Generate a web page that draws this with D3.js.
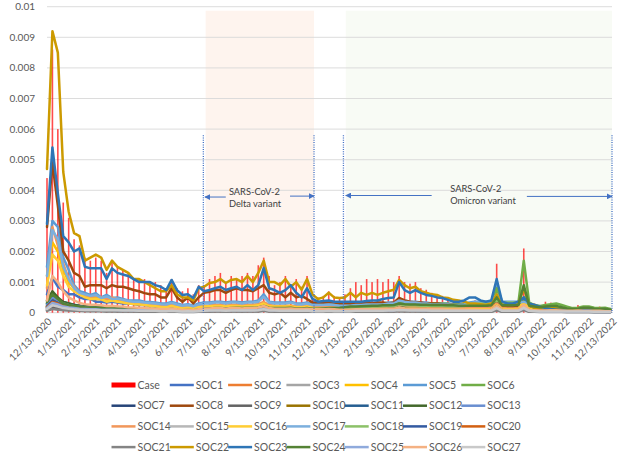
<!DOCTYPE html>
<html><head><meta charset="utf-8">
<script src="https://cdn.jsdelivr.net/npm/d3@7"></script>
<style>html,body{margin:0;padding:0;background:#fff}svg{display:block}</style>
</head><body>
<svg id="chart" width="624" height="456"></svg>
<script>
// All rates are stored in units of 1e-4 (i.e. 10 = 0.001)
const startDate = "2020-12-13";   // first weekly point
const nWeeks = 105;
const xTickLabels = ["12/13/2020","1/13/2021","2/13/2021","3/13/2021","4/13/2021","5/13/2021","6/13/2021","7/13/2021","8/13/2021","9/13/2021","10/13/2021","11/13/2021","12/13/2021","1/13/2022","2/13/2022","3/13/2022","4/13/2022","5/13/2022","6/13/2022","7/13/2022","8/13/2022","9/13/2022","10/13/2022","11/13/2022","12/13/2022"];
const yTickValues = [0,10,20,30,40,50,60,70,80,90,100];
const yTickLabels = ["0","0.001","0.002","0.003","0.004","0.005","0.006","0.007","0.008","0.009","0.01"];

const caseValues = [44,86,60,36,31,24,22,18,17,18,17,13,17,15,14,
13,11,11,11,10,10,9,8,11,8,7,8,6,9,9,
11,12,13,10,12,11,12,13,12,15.5,18,12,9,10,12,
9,11,8.5,12,5,5,5.5,7,5.5,5,6,8,10,9,11,
10,11,10,11,10,12,10,9.5,10,8,7.5,6.5,6,5.5,5,
4.5,4,4,3.5,4,3.5,3,4,16,3.5,3,3.5,4,21,4,
3,2.5,3.6,3.3,3,2,1.5,1.5,2.5,2,2,1.5,2,1.5,1];

const soc1 = [6,11.5,8.5,7.4,6,6,5,4.5,4.5,3.6,3.6,3.3,3.6,3.3,3,
3,2.8,2.5,2.5,2.3,2,2,1.8,2.2,1.8,1.5,1.5,1.3,1.8,2,
2,2.2,2.2,2,2.2,2.2,2,2.2,2.2,2.4,3,2,2,1.8,1.8,
1.9,1.7,1.6,1.8,1.5,1.5,1.5,1.6,1.5,1.5,1.5,1.6,1.6,1.7,1.8,
1.8,1.9,1.9,2,2,2.8,2.4,2.2,2.2,2,2,1.9,1.8,1.8,1.7,
1.6,1.5,1.5,1.5,1.5,1.4,1.4,1.5,4,1.4,1.3,1.3,1.4,2,1.2,
1,0.9,0.9,0.9,0.9,0.8,0.8,0.8,0.8,0.8,0.8,0.7,0.7,0.7,0.6];
const soc2 = [2,4,3.5,2.6,2,1.8,1.6,1.5,1.4,1.4,1.3,1.2,1.3,1.2,1.1,
1.1,1,1,0.9,0.9,0.8,0.8,0.7,0.9,0.7,0.6,0.7,0.6,0.8,0.9,
1,1.1,1.1,1,1.1,1.1,1,1.1,1.1,1.2,1.6,1.1,1,1,1,
1,0.9,0.9,1,0.8,0.8,0.8,0.9,0.8,0.8,0.8,0.8,0.9,0.9,0.9,
0.9,0.9,1,1,1,1.4,1.2,1.1,1.1,1,1,1,1,0.9,0.9,
0.9,0.9,0.9,0.9,0.9,0.9,0.9,1,2,0.9,0.9,0.9,0.9,2.5,0.9,
0.8,0.7,0.8,0.8,0.8,0.7,0.6,0.6,0.7,0.6,0.6,0.6,0.6,0.5,0.5];
const soc3 = [1,2,1.8,1.4,1.2,1,0.9,0.9,0.8,0.8,0.8,0.7,0.8,0.7,0.7,
0.7,0.6,0.6,0.6,0.5,0.5,0.5,0.5,0.6,0.5,0.4,0.4,0.4,0.5,0.5,
0.6,0.6,0.6,0.5,0.6,0.6,0.6,0.6,0.6,0.7,0.9,0.6,0.6,0.5,0.5,
0.6,0.5,0.5,0.6,0.4,0.4,0.4,0.5,0.4,0.4,0.4,0.4,0.5,0.5,0.5,
0.5,0.5,0.5,0.6,0.6,0.8,0.7,0.6,0.6,0.6,0.6,0.5,0.5,0.5,0.5,
0.5,0.5,0.5,0.5,0.5,0.5,0.5,0.5,1.2,0.5,0.5,0.5,0.5,1.5,0.5,
0.4,0.4,0.4,0.4,0.4,0.4,0.3,0.3,0.4,0.3,0.3,0.3,0.3,0.3,0.3];
const soc4 = [12,23,20,14,10,8,7,5.5,5,5,5,4,4.5,4,3.6,
3.3,3,3,2.8,2.5,2.3,2,2,2.5,2,1.5,1.8,1.5,2,2.2,
2.3,2.5,2.5,2.2,2.5,2.5,2.3,2.5,2.5,2.8,3.3,2.4,2.2,2.2,2.3,
2.2,2,2,2.2,1.8,1.5,1.5,1.6,1.5,1.3,1.2,1.2,1.1,1.1,1.1,
1.1,1.1,1.2,1.2,1.2,1.8,1.5,1.4,1.4,1.3,1.3,1.2,1.2,1.2,1.2,
1.1,1.1,1.1,1.2,1.2,1.2,1.2,1.3,3,1.2,1.2,1.2,1.3,4.5,1.5,
1.2,1.1,1.5,1.5,1.3,1.1,1,1,1.2,1,1,0.9,1,0.8,0.8];
const soc5 = [15,30,28,18,14,9,7,6.5,5.8,6.4,5,5.8,4.8,5,4.5,
4,4,4,3.6,3.5,3.3,3,3,3.5,3,2.5,2.8,2.3,3,3.3,
3.3,3.6,3.6,3.3,3.6,3.6,3.3,3.6,3.6,4,6,3.6,3.3,3.3,3.3,
3.6,3,3,3.3,2.8,2.8,2.8,3,2.8,2.5,2.5,2.5,2.8,2.8,3,
3,3,3,3.3,3.3,4.5,4,3.6,3.6,3.3,3.3,3,3,3,3,
2.8,2.8,3,3.3,3.6,3.6,3.6,3.6,9,3.6,3.6,3.6,3.6,4,3.3,
1.5,1.2,1,1,1,0.8,0.8,0.8,0.8,0.8,0.8,0.7,0.7,0.7,0.6];
const soc6 = [3,5,4,3,2.5,2.3,2,2,1.8,1.8,1.7,1.6,1.7,1.6,1.5,
1.5,1.4,1.4,1.3,1.3,1.2,1.2,1.1,1.4,1.1,1,1.1,1,1.3,1.5,
1.6,1.7,1.7,1.6,1.7,1.8,1.7,1.8,1.8,2,2.8,1.8,1.7,1.7,1.7,
1.8,1.6,1.6,1.8,1.5,1.6,1.6,1.7,1.7,1.8,2,2.2,2.3,2.5,2.6,
2.7,2.7,2.8,2.9,3,3.5,3.3,3.2,3.2,3.1,3,3,3,2.9,2.9,
2.8,2.8,2.8,2.8,2.8,2.8,2.8,3,8,3,3,3,3.2,17,3.3,
2.5,2.2,2.5,2.8,3,2.5,2,1.5,1.6,2,2,1.6,1.5,1.6,1.2];
const soc7 = [1.5,2.5,2,1.5,1.3,1.2,1.1,1,1,0.9,0.9,0.8,0.9,0.8,0.8,
0.7,0.7,0.7,0.6,0.6,0.6,0.5,0.5,0.7,0.5,0.4,0.5,0.4,0.5,0.6,
0.6,0.7,0.7,0.6,0.7,0.7,0.6,0.7,0.7,0.8,1,0.7,0.6,0.6,0.6,
0.6,0.5,0.5,0.6,0.4,0.4,0.4,0.5,0.4,0.4,0.4,0.5,0.5,0.5,0.5,
0.5,0.5,0.6,0.6,0.6,0.9,0.7,0.7,0.7,0.6,0.6,0.6,0.6,0.5,0.5,
0.5,0.5,0.5,0.5,0.5,0.5,0.5,0.5,1.5,0.5,0.4,0.4,0.5,1.5,0.4,
0.4,0.3,0.3,0.3,0.3,0.3,0.3,0.3,0.3,0.3,0.3,0.2,0.2,0.2,0.2];
const soc8 = [28,49,35,20,17,13,12,8.5,9,9,9,8,9,8.5,8.5,
8,7.4,7,6.4,6,6,5,5,8,5,3.6,5,3,5,6.5,
6.8,7.4,7.4,6.5,7.4,8,7.4,7.4,7,8,9,6.5,6,6.5,5,
6.5,5,5.5,4.5,3.3,3.3,3.3,3.5,3.3,3,3,3,3.3,3,3.3,
3,3.3,3.3,3,3.3,4.8,4,3.6,3.3,3.3,3,3,3,2.8,2.8,
2.5,2.5,2.5,2.5,2.5,2.2,2.2,2.5,4,2.2,2,2,2.2,3,1.5,
1.2,1,1,1,0.8,0.8,0.8,0.8,0.8,0.7,0.7,0.7,0.7,0.6,0.6];
const soc9 = [0.8,1.5,1.3,1,0.9,0.8,0.7,0.7,0.6,0.6,0.6,0.5,0.6,0.5,0.5,
0.5,0.5,0.4,0.4,0.4,0.4,0.4,0.3,0.4,0.3,0.3,0.3,0.3,0.4,0.4,
0.4,0.5,0.5,0.4,0.5,0.5,0.4,0.5,0.5,0.5,0.7,0.5,0.4,0.4,0.4,
0.4,0.4,0.4,0.4,0.3,0.3,0.3,0.4,0.3,0.3,0.3,0.3,0.4,0.4,0.4,
0.4,0.4,0.4,0.4,0.4,0.6,0.5,0.5,0.5,0.4,0.4,0.4,0.4,0.4,0.4,
0.4,0.4,0.4,0.4,0.4,0.4,0.4,0.4,0.9,0.4,0.4,0.4,0.4,1,0.4,
0.3,0.3,0.3,0.3,0.3,0.3,0.2,0.2,0.3,0.2,0.2,0.2,0.2,0.2,0.2];
const soc10 = [2.5,4.5,4,3,2.4,2,1.8,1.6,1.5,1.5,1.4,1.3,1.4,1.3,1.2,
1.2,1.1,1.1,1,1,0.9,0.9,0.8,1,0.8,0.7,0.8,0.6,0.9,1,
1.1,1.2,1.2,1.1,1.2,1.2,1.1,1.2,1.2,1.3,1.8,1.2,1.1,1.1,1.1,
1.1,1,1,1.1,0.9,0.8,0.8,0.9,0.8,0.8,0.8,0.9,0.9,0.9,0.9,
0.9,0.9,1,1,1,1.5,1.3,1.2,1.2,1.1,1.1,1,1,1,1,
0.9,0.9,0.9,0.9,0.9,0.9,0.9,1,2.2,0.9,0.9,0.9,0.9,2.8,0.9,
0.8,0.7,0.8,0.8,0.8,0.7,0.6,0.6,0.7,0.6,0.6,0.6,0.6,0.5,0.5];
const soc11 = [3,6,4.5,3.5,3,2.6,2.3,2,1.9,1.8,1.7,1.6,1.6,1.5,1.4,
1.3,1.3,1.2,1.2,1.1,1,1,0.9,1.1,0.9,0.8,0.9,0.7,1,1.1,
1.2,1.3,1.3,1.2,1.3,1.3,1.2,1.3,1.3,1.4,2,1.3,1.2,1.2,1.2,
1.2,1.1,1.1,1.2,1,1,1,1.1,1,1,1,1.1,1.1,1.1,1.1,
1.1,1.1,1.2,1.2,1.2,1.8,1.5,1.4,1.4,1.3,1.3,1.2,1.2,1.2,1.2,
1.1,1.1,1.1,1.1,1.1,1.1,1.1,1.2,3,1.1,1,1,1.1,2,1,
0.9,0.8,0.8,0.8,0.8,0.7,0.7,0.7,0.7,0.7,0.7,0.6,0.6,0.6,0.5];
const soc12 = [4,7,5,3.5,3,2.5,2.2,2,1.8,1.8,1.7,1.5,1.6,1.5,1.4,
1.3,1.3,1.2,1.2,1.1,1.1,1,1,1.2,1,0.9,1,0.8,1.1,1.2,
1.2,1.3,1.3,1.2,1.3,1.3,1.2,1.3,1.3,1.4,1.8,1.3,1.2,1.2,1.2,
1.3,1.2,1.1,1.2,1,1,1,1.1,1,1,1,1.1,1.1,1.2,1.2,
1.2,1.2,1.3,1.3,1.3,1.8,1.6,1.5,1.5,1.4,1.4,1.3,1.3,1.3,1.3,
1.2,1.2,1.2,1.2,1.2,1.2,1.2,1.3,3,1.2,1.2,1.2,1.3,5,1.2,
1,0.9,1,1,1,0.9,0.8,0.8,0.8,0.8,0.8,0.7,0.7,0.7,0.6];
const soc13 = [2.5,5,4,3,2.5,2.2,2,1.8,1.7,1.6,1.5,1.4,1.5,1.4,1.3,
1.2,1.2,1.1,1.1,1,1,0.9,0.9,1.1,0.8,0.7,0.8,0.7,0.9,1,
1,1.1,1.1,1,1.1,1.1,1,1.1,1.1,1.2,1.6,1.1,1,1,1,
1,0.9,0.9,1,0.8,0.8,0.8,0.9,0.8,0.8,0.8,0.9,0.9,0.9,0.9,
0.9,0.9,1,1,1,1.4,1.2,1.1,1.1,1,1,1,1,0.9,0.9,
0.9,0.9,0.9,0.9,0.9,0.9,0.9,1,2.5,0.9,0.9,0.9,0.9,1.8,0.9,
0.8,0.7,0.7,0.7,0.7,0.6,0.6,0.6,0.6,0.6,0.6,0.5,0.5,0.5,0.5];
const soc14 = [8,28,22,16,11,8.5,6,5.5,5,5.5,5,4.5,5,4.5,4,
3.6,3.3,3,3,2.8,2.5,2.3,2,2.5,2,1.8,2,1.5,2,2.2,
2.3,2.5,2.5,2.2,2.5,2.5,2.3,2.5,2.5,2.8,3.5,2.5,2.2,2.2,2.2,
2.3,2,2,2.2,1.8,1.8,1.8,2,1.8,1.6,1.6,1.6,1.7,1.7,1.8,
1.8,1.8,1.8,2,2,2.8,2.4,2.2,2.2,2,2,1.8,1.8,1.8,1.7,
1.6,1.6,1.6,1.6,1.6,1.5,1.5,1.6,3,1.5,1.4,1.4,1.5,3.5,1.3,
1.2,1,1,1.2,1.3,1,0.9,0.9,1,0.9,0.8,0.8,0.8,0.7,0.7];
const soc15 = [1.5,2.8,2.4,1.8,1.5,1.3,1.2,1.1,1,1,1,0.9,1,0.9,0.9,
0.8,0.8,0.8,0.7,0.7,0.7,0.6,0.6,0.8,0.6,0.5,0.6,0.5,0.6,0.7,
0.8,0.8,0.8,0.7,0.8,0.8,0.8,0.8,0.8,0.9,1.3,0.8,0.8,0.7,0.7,
0.8,0.7,0.7,0.8,0.6,0.6,0.6,0.7,0.6,0.6,0.6,0.6,0.7,0.7,0.7,
0.7,0.7,0.7,0.8,0.8,1.1,0.9,0.9,0.9,0.8,0.8,0.7,0.7,0.7,0.7,
0.7,0.7,0.7,0.7,0.7,0.7,0.7,0.7,1.8,0.7,0.7,0.7,0.7,2,0.7,
0.6,0.5,0.5,0.5,0.5,0.5,0.4,0.4,0.5,0.4,0.4,0.4,0.4,0.4,0.4];
const soc16 = [9,19,17,12,8.5,7,6,5,4.5,4.5,4.4,3.6,4,3.6,3.3,
3,2.8,2.7,2.5,2.3,2.1,1.9,1.8,2.2,1.8,1.4,1.6,1.3,1.8,2,
2.1,2.2,2.2,2,2.2,2.2,2,2.2,2.2,2.4,3,2.1,2,2,2,
2,1.8,1.8,2,1.6,1.4,1.4,1.5,1.4,1.2,1.1,1.1,1,1,1,
1,1,1.1,1.1,1.1,1.6,1.4,1.3,1.3,1.2,1.2,1.1,1.1,1.1,1.1,
1,1,1,1.1,1.1,1.1,1.1,1.2,2.5,1.1,1.1,1.1,1.2,3.5,1.3,
1.1,1,1.3,1.3,1.2,1,0.9,0.9,1.1,0.9,0.9,0.8,0.9,0.7,0.7];
const soc17 = [12,27,24,15,11,8,6.5,6,5.5,5.8,4.8,5.3,4.5,4.6,4.2,
3.8,3.6,3.6,3.3,3.2,3,2.8,2.7,3.2,2.7,2.3,2.5,2.1,2.7,3,
3,3.3,3.3,3,3.3,3.3,3,3.3,3.3,3.6,5.2,3.3,3,3,3,
3.3,2.8,2.7,3,2.5,2.5,2.5,2.7,2.5,2.3,2.3,2.3,2.5,2.5,2.7,
2.7,2.7,2.7,3,3,4,3.6,3.3,3.3,3,3,2.7,2.7,2.7,2.7,
2.5,2.5,2.7,3,3.3,3.3,3.3,3.3,6,3.3,3.3,3.3,3.3,3.6,3,
1.3,1.1,0.9,0.9,0.9,0.7,0.7,0.7,0.7,0.7,0.7,0.6,0.6,0.6,0.5];
const soc18 = [2,3.5,3,2.2,1.8,1.6,1.5,1.4,1.3,1.3,1.2,1.2,1.2,1.1,1.1,
1,1,1,0.9,0.9,0.9,0.8,0.8,1,0.8,0.7,0.8,0.7,0.9,1,
1.1,1.2,1.2,1.1,1.2,1.2,1.1,1.2,1.2,1.3,1.8,1.2,1.1,1.1,1.1,
1.2,1.1,1,1.1,0.9,0.9,1,1.1,1.1,1.2,1.4,1.6,1.7,1.8,1.9,
2,2,2.1,2.2,2.2,2.8,2.5,2.4,2.4,2.3,2.3,2.2,2.2,2.2,2.1,
2.1,2.1,2.2,2.5,2.8,3,3,3,4,3.2,3.3,3.3,3.3,5,3,
1.5,1.3,1.5,1.6,1.5,1.2,1,1,1.1,1.1,1.1,0.9,0.9,0.9,0.8];
const soc19 = [2,4,3.2,2.5,2.1,1.8,1.6,1.5,1.4,1.3,1.3,1.2,1.2,1.1,1.1,
1,1,0.9,0.9,0.9,0.8,0.8,0.7,0.9,0.7,0.6,0.7,0.6,0.8,0.9,
0.9,1,1,0.9,1,1,0.9,1,1,1.1,1.5,1,0.9,0.9,0.9,
0.9,0.8,0.8,0.9,0.7,0.7,0.7,0.8,0.7,0.7,0.7,0.8,0.8,0.8,0.8,
0.8,0.8,0.9,0.9,0.9,1.3,1.1,1,1,0.9,0.9,0.9,0.9,0.8,0.8,
0.8,0.8,0.8,0.8,0.8,0.8,0.8,0.9,2.2,0.8,0.8,0.8,0.8,1.5,0.8,
0.7,0.6,0.6,0.6,0.6,0.5,0.5,0.5,0.5,0.5,0.5,0.4,0.4,0.4,0.4];
const soc20 = [1.8,3.5,3,2.2,1.8,1.6,1.4,1.3,1.2,1.2,1.1,1,1.1,1,1,
0.9,0.9,0.8,0.8,0.8,0.7,0.7,0.6,0.8,0.6,0.5,0.6,0.5,0.7,0.8,
0.9,1,1,0.9,1,1,0.9,1,1,1.1,1.4,1,0.9,0.9,0.9,
0.9,0.8,0.8,0.9,0.7,0.7,0.7,0.8,0.7,0.7,0.7,0.7,0.8,0.8,0.8,
0.8,0.8,0.8,0.9,0.9,1.2,1,1,1,0.9,0.9,0.8,0.8,0.8,0.8,
0.8,0.8,0.8,0.8,0.8,0.8,0.8,0.9,1.8,0.8,0.8,0.8,0.8,2.2,0.8,
0.7,0.6,0.7,0.7,0.7,0.6,0.5,0.5,0.6,0.5,0.5,0.5,0.5,0.4,0.4];
const soc21 = [0.6,1.2,1,0.8,0.7,0.6,0.6,0.5,0.5,0.5,0.5,0.4,0.5,0.4,0.4,
0.4,0.4,0.4,0.3,0.3,0.3,0.3,0.3,0.4,0.3,0.2,0.3,0.2,0.3,0.3,
0.4,0.4,0.4,0.3,0.4,0.4,0.4,0.4,0.4,0.4,0.6,0.4,0.4,0.3,0.3,
0.4,0.3,0.3,0.4,0.3,0.3,0.3,0.3,0.3,0.3,0.3,0.3,0.3,0.3,0.3,
0.3,0.3,0.3,0.4,0.4,0.5,0.4,0.4,0.4,0.4,0.4,0.3,0.3,0.3,0.3,
0.3,0.3,0.3,0.3,0.3,0.3,0.3,0.3,0.8,0.3,0.3,0.3,0.3,0.9,0.3,
0.3,0.2,0.2,0.2,0.2,0.2,0.2,0.2,0.2,0.2,0.2,0.2,0.2,0.2,0.2];
const soc22 = [47,92,85,46,33,26,25,17,18,19,18,14,17,15,14,
13,11,11,10,9,8,7,7,9,6,5,5,4,8,8.5,
9.7,10,11,9.7,10.7,11,10,12,10,13,17,10,10,9,11,
8.5,10,7.5,11,6,4.5,5,6.5,5,4.8,5,6.5,5,6.5,5.8,
6.5,5.8,6.5,7,7.5,10.7,9,8,8.5,7,6.5,6,5.8,5,4.8,
4.2,4,3.6,3,3,2.8,2.5,3,6,2.5,2.5,2.5,3,8,2.5,
1.5,1.5,2,2,1.5,1.2,1,1,1.2,1,1,1,1.2,1,0.8];
const soc23 = [29,54,39,25,23,20,21,15,14.5,14.5,14.5,11,14.5,13,12.5,
12,11,10,10,10,9,8.5,7.4,10.7,7.4,5.8,6,4.8,8.5,7,
7.4,8,8.5,7.4,8,8.5,7.4,9,7.4,9,14.6,8,7.4,6.5,7.4,
9,6.5,5,8,4.5,3.6,3.8,4,3.6,3.6,3.6,3.6,3.6,3.6,3.8,
4,4,4.5,4.8,5,10,7.4,6.5,7.4,6.5,5.8,5.5,5,4.8,4.2,
3.6,3.6,4,5,5,4,3.6,4,11,3.6,3,3,3.6,5,3,
2.5,2,1.5,1.2,1,1,1,0.8,0.8,1,0.8,0.8,0.8,0.6,0.6];
const soc24 = [3.5,6,4.5,3,2.5,2.2,2,1.8,1.7,1.7,1.6,1.5,1.5,1.4,1.3,
1.3,1.2,1.2,1.1,1.1,1,1,0.9,1.1,0.9,0.8,0.9,0.8,1,1.2,
1.4,1.5,1.5,1.4,1.5,1.6,1.5,1.6,1.6,1.7,2.2,1.6,1.5,1.5,1.5,
1.6,1.4,1.4,1.5,1.3,1.3,1.4,1.5,1.5,1.6,1.8,2,2,2.1,2.2,
2.3,2.3,2.4,2.4,2.5,3,2.8,2.7,2.7,2.6,2.6,2.5,2.5,2.5,2.4,
2.4,2.3,2.3,2.3,2.3,2.3,2.3,2.4,5,2.4,2.4,2.4,2.5,9,2.3,
2,1.8,2,2.2,2.2,1.8,1.4,1.2,1.3,1.6,1.6,1.3,1.2,1.3,1];
const soc25 = [1.6,3.2,2.7,2,1.7,1.5,1.3,1.2,1.1,1.1,1,1,1,0.9,0.9,
0.9,0.8,0.8,0.8,0.7,0.7,0.7,0.6,0.8,0.6,0.5,0.6,0.5,0.7,0.7,
0.8,0.9,0.9,0.8,0.9,0.9,0.8,0.9,0.9,1,1.4,0.9,0.8,0.8,0.8,
0.8,0.7,0.7,0.8,0.6,0.6,0.6,0.7,0.6,0.6,0.6,0.7,0.7,0.7,0.7,
0.7,0.7,0.8,0.8,0.8,1.1,1,0.9,0.9,0.8,0.8,0.8,0.8,0.7,0.7,
0.7,0.7,0.7,0.7,0.7,0.7,0.7,0.8,1.9,0.7,0.7,0.7,0.7,1.4,0.7,
0.6,0.5,0.5,0.5,0.5,0.5,0.5,0.5,0.5,0.5,0.5,0.4,0.4,0.4,0.4];
const soc26 = [4,12,10,7,5,4,3.2,2.8,2.6,2.6,2.4,2.2,2.3,2.1,2,
1.8,1.7,1.6,1.5,1.4,1.3,1.2,1.1,1.4,1.1,0.9,1,0.8,1.1,1.3,
1.4,1.5,1.5,1.3,1.5,1.5,1.4,1.5,1.5,1.7,2.2,1.5,1.3,1.3,1.3,
1.4,1.2,1.2,1.3,1.1,1.1,1.1,1.2,1.1,1,1,1,1.1,1.1,1.1,
1.1,1.1,1.1,1.2,1.2,1.7,1.4,1.3,1.3,1.2,1.2,1.1,1.1,1.1,1,
1,1,1,1,1,0.9,0.9,1,2.2,0.9,0.9,0.9,0.9,2.5,0.9,
0.8,0.7,0.7,0.8,0.8,0.7,0.6,0.6,0.7,0.6,0.6,0.6,0.6,0.5,0.5];
const soc27 = [1.2,2.4,2,1.5,1.3,1.1,1,0.9,0.9,0.9,0.8,0.8,0.8,0.8,0.7,
0.7,0.7,0.6,0.6,0.6,0.6,0.5,0.5,0.6,0.5,0.4,0.5,0.4,0.5,0.6,
0.7,0.7,0.7,0.6,0.7,0.7,0.7,0.7,0.7,0.8,1.1,0.7,0.7,0.6,0.6,
0.7,0.6,0.6,0.7,0.5,0.5,0.5,0.6,0.5,0.5,0.5,0.5,0.6,0.6,0.6,
0.6,0.6,0.6,0.7,0.7,0.9,0.8,0.7,0.7,0.7,0.7,0.6,0.6,0.6,0.6,
0.6,0.6,0.6,0.6,0.6,0.6,0.6,0.6,1.5,0.6,0.6,0.6,0.6,1.6,0.6,
0.5,0.4,0.4,0.4,0.4,0.4,0.4,0.4,0.4,0.4,0.4,0.3,0.3,0.3,0.3];

const seriesNames = ["SOC1","SOC2","SOC3","SOC4","SOC5","SOC6","SOC7","SOC8","SOC9","SOC10","SOC11","SOC12","SOC13","SOC14","SOC15","SOC16","SOC17","SOC18","SOC19","SOC20","SOC21","SOC22","SOC23","SOC24","SOC25","SOC26","SOC27"];
const seriesValues = [soc1,soc2,soc3,soc4,soc5,soc6,soc7,soc8,soc9,soc10,soc11,soc12,soc13,soc14,soc15,soc16,soc17,soc18,soc19,soc20,soc21,soc22,soc23,soc24,soc25,soc26,soc27];
const seriesColors = ["#4472C4","#ED7D31","#A5A5A5","#FFC000","#5B9BD5","#70AD47","#264478","#9E480E","#636363","#997300","#255E91","#43682B","#698ED0","#F1975A","#B7B7B7","#FFCD33","#7CAFDD","#8CC168","#335AA1","#D26012","#848484","#CC9A00","#2E75B6","#548235","#8FAADC","#F4B183","#C9C9C9"];

// annotation spans (dates) and label texts
const deltaSpan = ["7/6/2021","11/23/2021"];
const omicronSpan = ["1/3/2022","12/13/2022"];
const shadeTop = 98.7;
const dottedDates = ["7/3/2021","11/23/2021","12/31/2021","12/13/2022"];
const dottedTop = 58;
const arrows = [
  {from:"8/1/2021", to:"7/5/2021", v:37.8},
  {from:"10/23/2021", to:"11/23/2021", v:38.1},
  {from:"4/24/2022", to:"1/3/2022", v:38.3},
  {from:"8/25/2022", to:"12/13/2022", v:38.0}
];
const labels = [
  {date:"8/5/2021", v:38.5, text:"SARS-CoV-2"},
  {date:"8/5/2021", v:34.4, text:"Delta variant"},
  {date:"5/18/2022", v:39.4, text:"SARS-CoV-2"},
  {date:"5/18/2022", v:35.5, text:"Omicron variant"}
];

const svg = d3.select("#chart");
const FONT = "Lato, 'Open Sans', sans-serif";
const parse = d3.timeParse("%m/%d/%Y");
const iso = d3.timeParse("%Y-%m-%d");
const dates = d3.range(nWeeks).map(i => d3.timeDay.offset(iso(startDate), 7 * i));

const x = d3.scaleTime()
  .domain([parse(xTickLabels[0]), parse(xTickLabels[xTickLabels.length - 1])])
  .range([47, 612]);
const y = d3.scaleLinear().domain([0, 100]).range([312.7, 6.7]);

svg.append("rect").attr("width", 624).attr("height", 456).attr("fill", "#fff");

// shaded variant periods
[[deltaSpan, "#FEF4EE"], [omicronSpan, "#F8FBF5"]].forEach(([s, c]) => {
  svg.append("rect")
    .attr("x", x(parse(s[0]))).attr("y", y(shadeTop))
    .attr("width", x(parse(s[1])) - x(parse(s[0])))
    .attr("height", y(0) - y(shadeTop))
    .attr("fill", c);
});

// gridlines
svg.append("g").selectAll("line").data(yTickValues.slice(1)).join("line")
  .attr("x1", x.range()[0]).attr("x2", x.range()[1])
  .attr("y1", d => y(d)).attr("y2", d => y(d))
  .attr("stroke", "#D9D9D9").attr("stroke-width", 1).attr("opacity", 0.9);

// y labels
svg.append("g").selectAll("text").data(yTickValues).join("text")
  .attr("x", 35).attr("y", d => y(d)).attr("dy", "0.35em")
  .attr("text-anchor", "end").attr("font-family", FONT).attr("font-size", 10)
  .attr("fill", "#595959").text((d, i) => yTickLabels[i]);

// x axis line
svg.append("line").attr("x1", x.range()[0]).attr("x2", x.range()[1])
  .attr("y1", y(0)).attr("y2", y(0)).attr("stroke", "#D9D9D9").attr("stroke-width", 1);

// x labels
svg.append("g").selectAll("text").data(xTickLabels).join("text")
  .attr("transform", d => `translate(${x(parse(d)) + 3},${y(0) + 7}) rotate(-45)`)
  .attr("text-anchor", "end").attr("dy", "0.35em")
  .attr("font-family", FONT).attr("font-size", 10).attr("fill", "#595959")
  .text(d => d);

// case bars
svg.append("g").selectAll("rect").data(caseValues).join("rect")
  .attr("x", (d, i) => x(dates[i]) - 0.8).attr("width", 1.6)
  .attr("y", d => y(d)).attr("height", d => y(0) - y(d))
  .attr("fill", "#FF0000").attr("opacity", 0.7);

// lines
const line = d3.line().x((d, i) => x(dates[i])).y(d => y(d));
svg.append("g").selectAll("path").data(seriesValues).join("path")
  .attr("d", d => line(d)).attr("fill", "none")
  .attr("stroke", (d, i) => seriesColors[i]).attr("stroke-width", 2.5)
  .attr("stroke-linejoin", "round").attr("stroke-linecap", "round");

// dotted period markers
svg.append("g").selectAll("line").data(dottedDates).join("line")
  .attr("x1", d => x(parse(d))).attr("x2", d => x(parse(d)))
  .attr("y1", y(dottedTop)).attr("y2", y(0))
  .attr("stroke", "#4472C4").attr("stroke-width", 1.3).attr("stroke-dasharray", "1 1.3");

// arrows
svg.append("defs").append("marker").attr("id", "ah")
  .attr("viewBox", "0 0 10 10").attr("refX", 9).attr("refY", 5)
  .attr("markerWidth", 6).attr("markerHeight", 6).attr("markerUnits", "userSpaceOnUse")
  .attr("orient", "auto")
  .append("path").attr("d", "M0,0L10,5L0,10z").attr("fill", "#4472C4");
svg.append("g").selectAll("line").data(arrows).join("line")
  .attr("x1", d => x(parse(d.from))).attr("x2", d => x(parse(d.to)))
  .attr("y1", d => y(d.v)).attr("y2", d => y(d.v))
  .attr("stroke", "#4472C4").attr("stroke-width", 1).attr("marker-end", "url(#ah)");

svg.append("g").selectAll("text").data(labels).join("text")
  .attr("x", d => x(parse(d.date))).attr("y", d => y(d.v))
  .attr("font-family", FONT).attr("font-size", 9.3).attr("fill", "#404040")
  .text(d => d.text);

// legend
const legendItems = [{name:"Case", color:"#FF0000", bar:true}]
  .concat(seriesNames.map((n, i) => ({name:n, color:seriesColors[i], bar:false})));
const lg = svg.append("g").selectAll("g").data(legendItems).join("g")
  .attr("transform", (d, i) => `translate(${111.5 + (i % 7) * 58.3},${385 + Math.floor(i / 7) * 20.7})`);
lg.filter(d => d.bar).append("rect").attr("x", 0).attr("y", -2.5).attr("width", 24).attr("height", 5).attr("fill", d => d.color);
lg.filter(d => !d.bar).append("line").attr("x1", 0).attr("x2", 24).attr("y1", 0).attr("y2", 0)
  .attr("stroke", d => d.color).attr("stroke-width", 2.5);
lg.append("text").attr("x", 26).attr("dy", "0.35em")
  .attr("font-family", FONT).attr("font-size", 10.5).attr("fill", "#595959").text(d => d.name);
</script>
</body></html>
